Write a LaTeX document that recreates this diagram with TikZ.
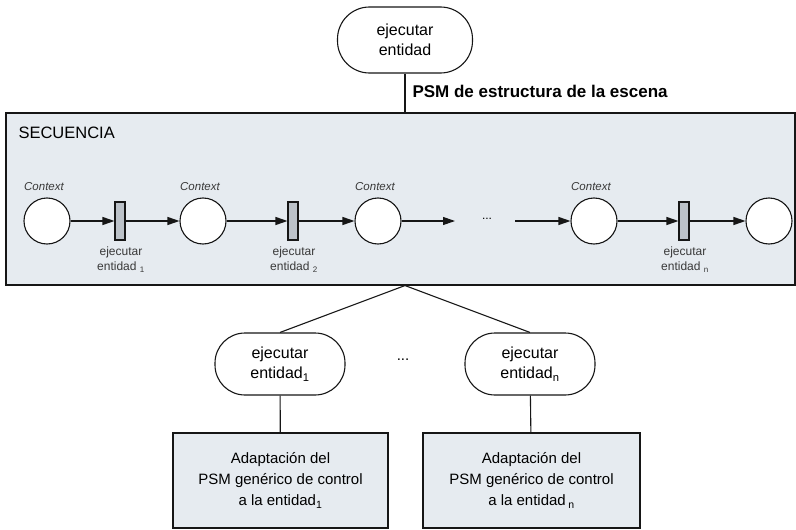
\documentclass[tikz,border=0pt]{standalone}
\usepackage{fontspec}
\setmainfont{Liberation Sans}
\usetikzlibrary{arrows.meta,positioning}
\definecolor{ink}{HTML}{161616}
\definecolor{pale}{HTML}{E6EBF0}
\definecolor{bar}{HTML}{BCC2C9}
\tikzset{
  pill/.style={draw=ink,rounded corners=30pt,fill=white,align=center,
    font=\fontsize{16}{20}\selectfont,minimum width=130pt,minimum height=62pt,inner sep=0pt},
  place/.style={circle,draw=ink,fill=white,minimum size=46pt,inner sep=0pt},
  trans/.style={rectangle,draw=ink,fill=bar,minimum width=10pt,minimum height=38pt,inner sep=0pt},
  ctx/.style={font=\fontsize{11.5}{13}\selectfont\itshape,text=ink!85,inner sep=0pt},
  tlabel/.style={font=\fontsize{12}{15}\selectfont,align=center,text=ink!85,inner sep=0pt},
  adapt/.style={draw=ink,fill=pale,align=center,font=\fontsize{15}{21}\selectfont,
    minimum width=215pt,minimum height=95pt,inner sep=0pt},
  arr/.style={-{Triangle[length=12pt,width=8pt]},draw=ink},
  link/.style={draw=ink},
}

\begin{document}
\begin{tikzpicture}[x=1pt,y=-1pt,line width=1.1pt]
  \useasboundingbox (0,0) rectangle (796,530);
  % top
  \node[pill,minimum width=135pt,minimum height=66pt,rounded corners=32pt] (top) at (405,40) {ejecutar\\entidad};
  \node[draw=ink,fill=pale,minimum width=789pt,minimum height=172pt,inner sep=0pt] (seq) at (400.5,199) {};
  \node[anchor=base west,font=\fontsize{16.5}{20}\selectfont,inner sep=0pt] (seqname) at (18,138) {SECUENCIA};
  \draw[link] (top.south) -- (top.south |- seq.north)
    node[pos=.45,anchor=base west,xshift=7pt,yshift=-6pt,font=\fontsize{17}{20}\selectfont\bfseries,inner sep=0pt] (psm) {PSM de estructura de la escena};
  % petri net of the sequence
  \node[place] (p1) at (47,221) {};
  \node[trans] (t1) at (120,221) {};
  \node[place] (p2) at (203,221) {};
  \node[trans] (t2) at (293,221) {};
  \node[place] (p3) at (378,221) {};
  \node[font=\fontsize{12}{15}\selectfont] (gap) at (487,219) {...};
  \coordinate (gapL) at (455,221);
  \coordinate (gapR) at (515,221);
  \node[place] (p4) at (594,221) {};
  \node[trans] (tn) at (684,221) {};
  \node[place] (p5) at (769,221) {};
  \foreach \p in {p1,p2,p3,p4}
    \node[ctx,anchor=base] at ([xshift=-3pt,yshift=7pt]\p.north) {Context};
  \node[tlabel,below=6pt of t1,xshift=1pt] (l1) {ejecutar\\entidad \textsubscript{1}};
  \node[tlabel,below=6pt of t2,xshift=1pt] (l2) {ejecutar\\entidad \textsubscript{2}};
  \node[tlabel,below=6pt of tn,xshift=1pt] (ln) {ejecutar\\entidad \textsubscript{n}};
  \draw[arr] (p1) -- (t1);
  \draw[arr] (t1) -- (p2);
  \draw[arr] (p2) -- (t2);
  \draw[arr] (t2) -- (p3);
  \draw[arr] (p3) -- (gapL);
  \draw[arr] (gapR) -- (p4);
  \draw[arr] (p4) -- (tn);
  \draw[arr] (tn) -- (p5);
  % refinement
  \coordinate (apex) at (top.south |- seq.south);
  \node[pill] (e1) at (280,364) {ejecutar\\entidad\textsubscript{1}};
  \node[pill] (en) at (530,364) {ejecutar\\entidad\textsubscript{n}};
  \node[font=\fontsize{15}{18}\selectfont] (edots) at (403,360) {...};
  \node[adapt] (a1) at (280.5,480.5) {Adaptación del\\PSM genérico de control\\a la entidad\textsubscript{1}};
  \node[adapt,minimum width=217pt] (an) at (531.5,480.5) {Adaptación del\\PSM genérico de control\\a la entidad\,\textsubscript{n}};
  \draw[link] (apex) -- (e1.north);
  \draw[link] (apex) -- (en.north);
  \draw[link] (e1) -- (a1);
  \draw[link] (en) -- (an);
\end{tikzpicture}
\end{document}
